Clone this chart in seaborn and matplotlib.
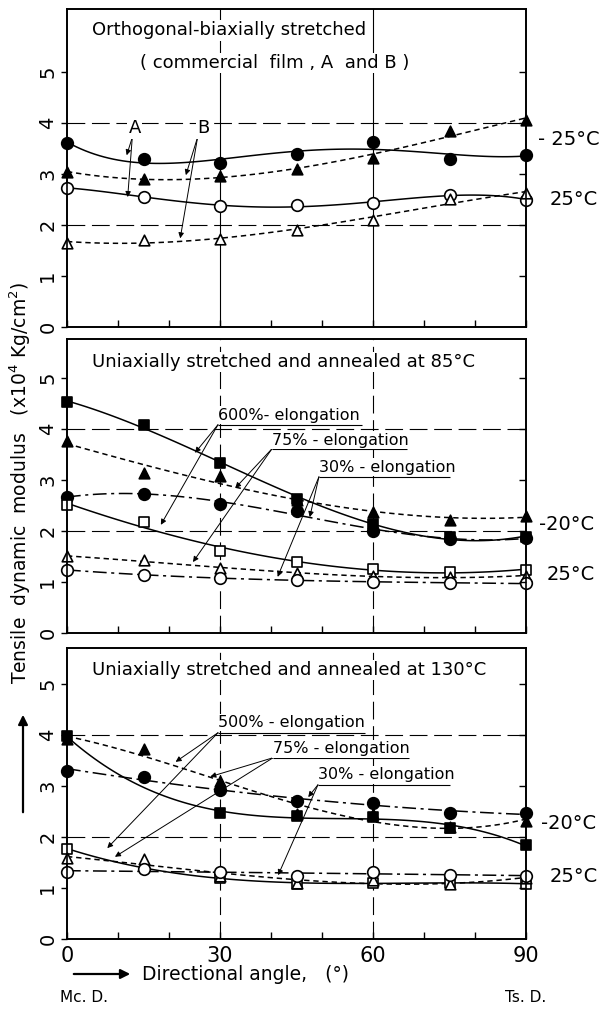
import numpy as np
import matplotlib
matplotlib.use("Agg")
import matplotlib.pyplot as plt
import seaborn as sns

# ---------------- data ----------------
ANGLES = [0, 15, 30, 45, 60, 75, 90]
X_TICKS = [0, 30, 60, 90]
Y_TICKS = [0, 1, 2, 3, 4, 5]

# top panel: orthogonal-biaxially stretched films A and B
top_A_m25 = [3.61, 3.29, 3.22, 3.40, 3.63, 3.29, 3.38]
top_B_m25 = [3.04, 2.91, 2.96, 3.10, 3.31, 3.84, 4.07]
top_A_25 = [2.73, 2.56, 2.37, 2.39, 2.43, 2.59, 2.50]
top_B_25 = [1.65, 1.71, 1.73, 1.90, 2.10, 2.52, 2.62]

# middle panel: annealed at 85 C
mid_600_m20 = [4.52, 4.08, 3.33, 2.63, 2.14, 1.88, 1.88]
mid_75_m20 = [3.76, 3.14, 3.07, 2.60, 2.38, 2.22, 2.29]
mid_30_m20 = [2.67, 2.72, 2.53, 2.40, 1.99, 1.85, 1.86]
mid_600_25 = [2.51, 2.17, 1.60, 1.39, 1.26, 1.19, 1.24]
mid_75_25 = [1.50, 1.43, 1.27, 1.17, 1.11, 1.10, 1.12]
mid_30_25 = [1.24, 1.13, 1.08, 1.04, 1.00, 0.98, 0.97]

# bottom panel: annealed at 130 C
bot_500_m20 = [3.97, np.nan, 2.47, 2.41, 2.38, 2.18, 1.84]
bot_75_m20 = [3.91, 3.73, 3.09, 2.44, 2.44, 2.19, 2.32]
bot_30_m20 = [3.30, 3.18, 2.92, 2.70, 2.67, 2.47, 2.46]
bot_500_25 = [1.77, np.nan, 1.20, 1.08, 1.10, 1.10, 1.08]
bot_75_25 = [1.58, 1.56, 1.23, 1.10, 1.16, 1.08, 1.20]
bot_30_25 = [1.31, 1.38, 1.31, 1.23, 1.31, 1.26, 1.24]

TITLES = ["Orthogonal-biaxially stretched",
          "Uniaxially stretched and annealed at 85°C",
          "Uniaxially stretched and annealed at 130°C"]

# ---------------- style ----------------
sns.set_style("white")
plt.rcParams["font.family"] = ["DejaVu Sans"]
plt.rcParams["axes.linewidth"] = 1.2
for k in ("text.color", "axes.labelcolor", "xtick.color", "ytick.color",
          "axes.edgecolor"):
    plt.rcParams[k] = "black"

SOLID = "-"
SHORT = (0, (3.5, 2.5))
DASHDOT = (0, (9, 3, 2, 3))

fig = plt.figure(figsize=(6.01, 10.11), dpi=100)
W = 601.0
H = 1011.0
L = 67 / W
AW = (526 - 67) / W
ax_top = fig.add_axes([L, 1 - 327 / H, AW, 318 / H])
ax_mid = fig.add_axes([L, 1 - 633 / H, AW, 294 / H])
ax_bot = fig.add_axes([L, 1 - 939 / H, AW, 291 / H])
ylims = [6.24, 5.76, 5.70]


def series(ax, y, marker, filled, ls, order):
    sns.regplot(x=ANGLES, y=y, order=order, ci=None, scatter=False,
                truncate=True, ax=ax,
                line_kws=dict(color="black", lw=1.1, ls=ls, zorder=2))
    size = 70 if marker == "o" else 58
    sns.scatterplot(x=ANGLES, y=y, marker=marker, s=size, ax=ax,
                    color="black" if filled else "white",
                    edgecolor="black", linewidth=1.2, zorder=4,
                    clip_on=False, legend=False)


def frame(ax, ytop, bottom_labels, vsolid):
    ax.set_xlim(0, 90)
    ax.set_ylim(0, ytop)
    ax.set_xlabel("")
    ax.set_ylabel("")
    for s in ax.spines.values():
        s.set_linewidth(1.2)
        s.set_color("black")
    ax.set_xticks(X_TICKS)
    ax.set_xticks([10, 20, 40, 50, 70, 80], minor=True)
    ax.tick_params(axis="x", which="both", direction="in", length=5,
                   width=1.0, labelsize=15, pad=5, bottom=True)
    if not bottom_labels:
        ax.set_xticklabels([])
    ax.set_yticks(Y_TICKS)
    ax.tick_params(axis="y", which="major", direction="out", length=4,
                   width=1.0, labelsize=14, pad=3, left=True)
    for t in ax.get_yticklabels():
        t.set_rotation(90)
        t.set_va("center")
    ax2 = ax.twinx()
    ax2.set_ylim(0, ytop)
    ax2.set_yticks(Y_TICKS[1:])
    ax2.tick_params(axis="y", direction="in", length=5, width=1.0,
                    labelright=False)
    ax2.spines["right"].set_linewidth(1.2)
    # reference grid lines
    for yv in (2, 4):
        ax.axhline(yv, color="black", lw=0.8, ls=(0, (16, 6)), zorder=1)
    for xv in (30, 60):
        ax.axvline(xv, color="black", lw=0.8,
                   ls="-" if vsolid else (0, (16, 6)), zorder=1)


def arrow(ax, tail, head):
    ax.annotate("", xy=head, xytext=tail,
                arrowprops=dict(arrowstyle="-|>", lw=0.7, color="black",
                                mutation_scale=8, shrinkA=0, shrinkB=0),
                zorder=5)


bbox = dict(fc="white", ec="none", pad=1.0)

# ---------------- top panel ----------------
ax = ax_top
series(ax, top_A_m25, "o", True, SOLID, 4)
series(ax, top_B_m25, "^", True, SHORT, 3)
series(ax, top_A_25, "o", False, SOLID, 4)
series(ax, top_B_25, "^", False, SHORT, 3)
frame(ax, ylims[0], False, True)
ax.text(4.9, 5.82, TITLES[0], fontsize=13, ha="left", va="center",
        bbox=bbox, zorder=6)
ax.text(14.3, 5.18, "( commercial  film , A  and B )", fontsize=13,
        ha="left", va="center", bbox=bbox, zorder=6)
ax.text(13.3, 3.9, "A", fontsize=13, ha="center", va="center", bbox=bbox,
        zorder=6)
ax.text(26.7, 3.9, "B", fontsize=13, ha="center", va="center", bbox=bbox,
        zorder=6)
arrow(ax, (12.8, 3.72), (11.7, 3.37))
arrow(ax, (12.8, 3.72), (11.9, 2.55))
arrow(ax, (25.6, 3.72), (23.3, 2.98))
arrow(ax, (25.6, 3.72), (22.2, 1.74))
ax.text(92.3, 3.67, "- 25°C", fontsize=14, ha="left", va="center",
        clip_on=False)
ax.text(94.7, 2.5, "25°C", fontsize=14, ha="left", va="center",
        clip_on=False)

# ---------------- middle panel ----------------
ax = ax_mid
series(ax, mid_600_m20, "s", True, SOLID, 3)
series(ax, mid_75_m20, "^", True, SHORT, 3)
series(ax, mid_30_m20, "o", True, DASHDOT, 3)
series(ax, mid_600_25, "s", False, SOLID, 3)
series(ax, mid_75_25, "^", False, SHORT, 3)
series(ax, mid_30_25, "o", False, DASHDOT, 3)
frame(ax, ylims[1], False, False)
ax.text(4.9, 5.31, TITLES[1], fontsize=13, ha="left", va="center",
        bbox=bbox, zorder=6)
labels_mid = [("600%- elongation", 29.6, 57.9, 4.27, 4.08,
               [(25.1, 3.53), (18.4, 2.12)]),
              ("75% - elongation", 40.2, 66.7, 3.78, 3.61,
               [(33.0, 2.84), (24.7, 1.39)]),
              ("30% - elongation", 49.4, 75.0, 3.25, 3.06,
               [(47.6, 2.27), (41.3, 1.10)])]
for txt, x0, x1, yt, yu, heads in labels_mid:
    ax.text(x0, yt, txt, fontsize=11.5, ha="left", va="center", zorder=6,
            bbox=bbox)
    ax.hlines(yu, x0, x1, color="black", lw=0.8, zorder=5)
    for h in heads:
        arrow(ax, (x0, yu), h)
ax.text(92.5, 2.12, "-20°C", fontsize=14, ha="left", va="center",
        clip_on=False)
ax.text(94.0, 1.14, "25°C", fontsize=14, ha="left", va="center",
        clip_on=False)

# ---------------- bottom panel ----------------
ax = ax_bot
series(ax, bot_500_m20, "s", True, SOLID, 3)
series(ax, bot_75_m20, "^", True, SHORT, 3)
series(ax, bot_30_m20, "o", True, DASHDOT, 2)
series(ax, bot_500_25, "s", False, SOLID, 3)
series(ax, bot_75_25, "^", False, SHORT, 3)
series(ax, bot_30_25, "o", False, DASHDOT, 2)
frame(ax, ylims[2], True, False)
ax.text(4.9, 5.27, TITLES[2], fontsize=13, ha="left", va="center",
        bbox=bbox, zorder=6)
labels_bot = [("500% - elongation", 29.6, 58.4, 4.24, 4.04,
               [(21.3, 3.47), (7.9, 1.78)]),
              ("75% - elongation", 40.4, 67.1, 3.73, 3.55,
               [(28.1, 3.18), (9.4, 1.61)]),
              ("30% - elongation", 49.2, 75.0, 3.22, 3.02,
               [(47.3, 2.78), (41.4, 1.25)])]
for txt, x0, x1, yt, yu, heads in labels_bot:
    ax.text(x0, yt, txt, fontsize=11.5, ha="left", va="center", zorder=6,
            bbox=bbox)
    ax.hlines(yu, x0, x1, color="black", lw=0.8, zorder=5)
    for h in heads:
        arrow(ax, (x0, yu), h)
ax.text(92.9, 2.27, "-20°C", fontsize=14, ha="left", va="center",
        clip_on=False)
ax.text(94.7, 1.22, "25°C", fontsize=14, ha="left", va="center",
        clip_on=False)

# ---------------- figure-level labels ----------------
fig.text(20 / W, 1 - 483 / H,
         "Tensile  dynamic  modulus   (x10$^4$ Kg/cm$^2$)",
         rotation=90, fontsize=13.5, ha="center", va="center")
fig.add_artist(matplotlib.patches.FancyArrowPatch(
    (23 / W, 1 - 815 / H), (23 / W, 1 - 712 / H),
    transform=fig.transFigure, arrowstyle="-|>", mutation_scale=14,
    lw=1.6, color="black"))
fig.add_artist(matplotlib.patches.FancyArrowPatch(
    (71 / W, 1 - 974 / H), (133 / W, 1 - 974 / H),
    transform=fig.transFigure, arrowstyle="-|>", mutation_scale=14,
    lw=1.6, color="black"))
fig.text(142 / W, 1 - 975 / H, "Directional angle,   (°)", fontsize=13.5,
         ha="left", va="center")
fig.text(60 / W, 1 - 998 / H, "Mc. D.", fontsize=11, ha="left",
         va="center")
fig.text(526 / W, 1 - 998 / H, "Ts. D.", fontsize=11, ha="center",
         va="center")

fig.savefig("out.png", dpi=100, facecolor="white")
